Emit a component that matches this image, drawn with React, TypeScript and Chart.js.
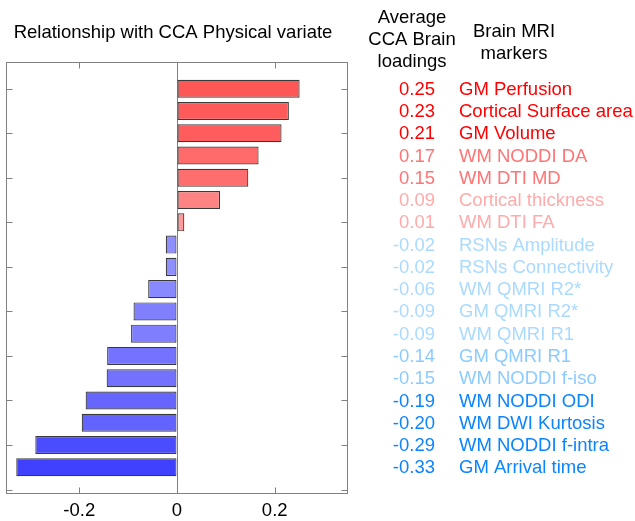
import React, { useEffect, useRef } from "react";
import { Chart, registerables } from "chart.js";

Chart.register(...registerables);

// ---- data ----
const markers = [
  "GM Perfusion",
  "Cortical Surface area",
  "GM Volume",
  "WM NODDI DA",
  "WM DTI MD",
  "Cortical thickness",
  "WM DTI FA",
  "RSNs Amplitude",
  "RSNs Connectivity",
  "WM QMRI R2*",
  "GM QMRI R2*",
  "WM QMRI R1",
  "GM QMRI R1",
  "WM NODDI f-iso",
  "WM NODDI ODI",
  "WM DWI Kurtosis",
  "WM NODDI f-intra",
  "GM Arrival time",
];
const barValues = [
  0.251, 0.229, 0.214, 0.167, 0.146, 0.088, 0.015, -0.023, -0.023, -0.059,
  -0.089, -0.094, -0.143, -0.144, -0.187, -0.195, -0.29, -0.329,
];
const loadingLabels = [
  "0.25", "0.23", "0.21", "0.17", "0.15", "0.09", "0.01", "-0.02", "-0.02",
  "-0.06", "-0.09", "-0.09", "-0.14", "-0.15", "-0.19", "-0.20", "-0.29", "-0.33",
];
const xTicks = [-0.2, 0, 0.2];
const yTicks = [1, 3, 5, 7, 9, 11, 13, 15, 17, 19];
const titleText = "Relationship with CCA Physical variate";
const header1 = ["Average", "CCA Brain", "loadings"];
const header2 = ["Brain MRI", "markers"];

// ---- styles ----
const barColors = [
  "#ff5656", "#ff5959", "#ff5d5d", "#ff6a6a", "#ff6e6e", "#ff8383", "#ff9a9a",
  "#8f8fff", "#8f8fff", "#8888ff", "#8080ff", "#7e7eff", "#7373ff", "#7272ff",
  "#6666ff", "#6363ff", "#4c4cff", "#4040ff",
];
const textColors = [
  "#ff0000", "#ff0000", "#ff0000", "#ff7474", "#ff7474", "#ffabab", "#ffabab",
  "#aadaff", "#aadaff", "#aadaff", "#aadaff", "#aadaff", "#8ccbff", "#8ccbff",
  "#0a84ff", "#0a84ff", "#0a84ff", "#0a84ff",
];
const FONT = "18.5px 'Liberation Sans', Arial, sans-serif";
const AXIS_GRAY = "#808080";

const decorPlugin = {
  id: "decor",
  afterDraw(chart: any) {
    const { ctx, chartArea } = chart;
    const xs = chart.scales.x;
    const ys = chart.scales.y;
    const L = Math.round(chartArea.left) + 0.5;
    const R = Math.round(chartArea.right) - 0.5;
    const T = Math.round(chartArea.top) + 0.5;
    const B = Math.round(chartArea.bottom) - 0.5;
    const tl = 6;
    ctx.save();
    ctx.strokeStyle = AXIS_GRAY;
    ctx.lineWidth = 1;
    ctx.strokeRect(L, T, R - L, B - T);
    ctx.beginPath();
    yTicks.forEach((v) => {
      const y = Math.round(ys.getPixelForValue(v)) + 0.5;
      ctx.moveTo(L, y);
      ctx.lineTo(L + tl, y);
      ctx.moveTo(R, y);
      ctx.lineTo(R - tl, y);
    });
    xTicks.forEach((v) => {
      const x = Math.round(xs.getPixelForValue(v)) + 0.5;
      ctx.moveTo(x, T);
      ctx.lineTo(x, T + tl);
      ctx.moveTo(x, B);
      ctx.lineTo(x, B - tl);
    });
    ctx.stroke();

    ctx.font = FONT;
    ctx.textBaseline = "middle";
    ctx.fillStyle = "#000";
    ctx.textAlign = "center";
    ctx.fillText(titleText, 173, 33);
    header1.forEach((t, i) => ctx.fillText(t, 412, 18 + i * 22));
    header2.forEach((t, i) => ctx.fillText(t, 514, 32 + i * 22));

    markers.forEach((m, i) => {
      const y = ys.getPixelForValue(i + 1) + 1;
      ctx.fillStyle = textColors[i];
      ctx.textAlign = "right";
      ctx.fillText(loadingLabels[i], 435, y);
      ctx.textAlign = "left";
      ctx.fillText(m, 459, y);
    });
    ctx.restore();
  },
};

export default function App() {
  const ref = useRef<HTMLCanvasElement | null>(null);
  useEffect(() => {
    if (!ref.current) return;
    const chart = new Chart(ref.current, {
      type: "bar",
      data: {
        datasets: [
          {
            data: barValues.map((v, i) => ({ x: v, y: i + 1 })),
            backgroundColor: barColors,
            borderColor: "#3a3a3a",
            borderWidth: 1.2,
            borderSkipped: false,
            barPercentage: 0.9,
            categoryPercentage: 0.9,
          },
        ],
      },
      options: {
        indexAxis: "y",
        responsive: false,
        animation: false,
        devicePixelRatio: 1,
        layout: { padding: { left: 6, top: 62, right: 287, bottom: 0 } },
        plugins: { legend: { display: false }, tooltip: { enabled: false }, title: { display: false } },
        scales: {
          x: {
            type: "linear",
            min: -0.35,
            max: 0.35,
            offset: false,
            afterBuildTicks: (s: any) => {
              s.ticks = xTicks.map((v) => ({ value: v }));
            },
            afterFit: (s: any) => {
              s.height = 27;
            },
            border: { display: false },
            grid: {
              drawTicks: false,
              offset: false,
              color: (c: any) => (c.tick && c.tick.value === 0 ? AXIS_GRAY : "rgba(0,0,0,0)"),
            },
            ticks: {
              padding: 6,
              color: "#000",
              font: { family: "'Liberation Sans', Arial, sans-serif", size: 18.5 },
              callback: (v: any) => (Number(v) === 0 ? "0" : String(Number(v))),
            },
          },
          y: {
            type: "linear",
            reverse: true,
            offset: false,
            min: -0.2,
            max: 19.2,
            afterBuildTicks: (s: any) => {
              s.ticks = yTicks.map((v) => ({ value: v }));
            },
            afterFit: (s: any) => {
              s.width = 0;
            },
            border: { display: false },
            grid: { display: false, drawTicks: false, offset: false },
            ticks: { display: false },
          },
        },
      },
      plugins: [decorPlugin],
    } as any);
    return () => chart.destroy();
  }, []);
  return (
    <div style={{ position: "absolute", left: 0, top: 0, width: 635, height: 521, background: "#fff" }}>
      <canvas ref={ref} width={635} height={521} style={{ width: 635, height: 521, display: "block" }} />
    </div>
  );
}
